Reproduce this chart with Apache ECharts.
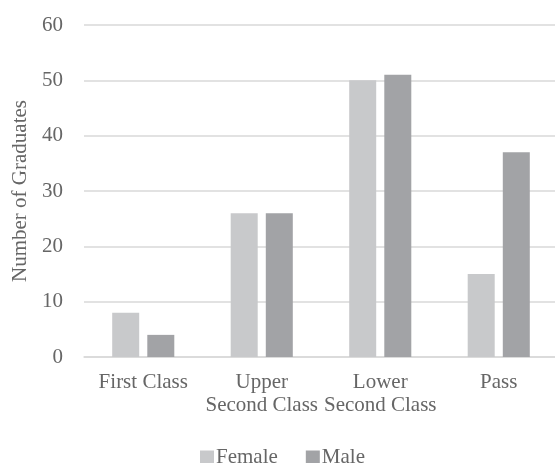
<!DOCTYPE html>
<html>
<head>
<meta charset="utf-8">
<script src="https://cdn.jsdelivr.net/npm/echarts@6/dist/echarts.min.js"></script>
<style>
html,body{margin:0;padding:0;background:#fff;}
#c{width:555px;height:463px;}
</style>
</head>
<body>
<div id="c"></div>
<script>
var categories = ['First Class', 'Upper\nSecond Class', 'Lower\nSecond Class', 'Pass'];
var female = [8, 26, 50, 15];
var male = [4, 26, 51, 37];
var seriesNames = ['Female', 'Male'];

var font = '"Liberation Serif", "Times New Roman", serif';
var txt = '#666666';
var chart = echarts.init(document.getElementById('c'));
chart.setOption({
  animation: false,
  textStyle: {fontFamily: font},
  grid: {left: 84, right: -3, top: 25, bottom: 106, containLabel: false, outerBoundsMode: 'none'},
  legend: {
    data: seriesNames,
    left: 195, top: 442,
    itemWidth: 14, itemHeight: 14, itemGap: 28,
    icon: 'rect',
    textStyle: {fontFamily: font, fontSize: 21, color: txt, padding: [0, 0, 0, -3]}
  },
  xAxis: {
    type: 'category',
    data: categories,
    axisLine: {lineStyle: {color: '#d9d9d9', width: 1.5}},
    axisTick: {show: false},
    axisLabel: {fontFamily: font, fontSize: 21, color: txt, margin: 14, lineHeight: 23, interval: 0}
  },
  yAxis: {
    type: 'value',
    min: 0, max: 60, interval: 10,
    name: 'Number of Graduates',
    nameLocation: 'middle',
    nameGap: 52,
    nameTextStyle: {fontFamily: font, fontSize: 21, color: txt},
    axisLine: {show: false},
    axisTick: {show: false},
    splitLine: {lineStyle: {color: '#d9d9d9', width: 1.5}},
    axisLabel: {fontFamily: font, fontSize: 21, color: txt, margin: 21}
  },
  series: [
    {name: seriesNames[0], type: 'bar', data: female, barWidth: 27, barGap: '30%', itemStyle: {color: '#c8c9cb'}},
    {name: seriesNames[1], type: 'bar', data: male, barWidth: 27, barGap: '30%', itemStyle: {color: '#a2a3a6'}}
  ]
});
</script>
</body>
</html>
